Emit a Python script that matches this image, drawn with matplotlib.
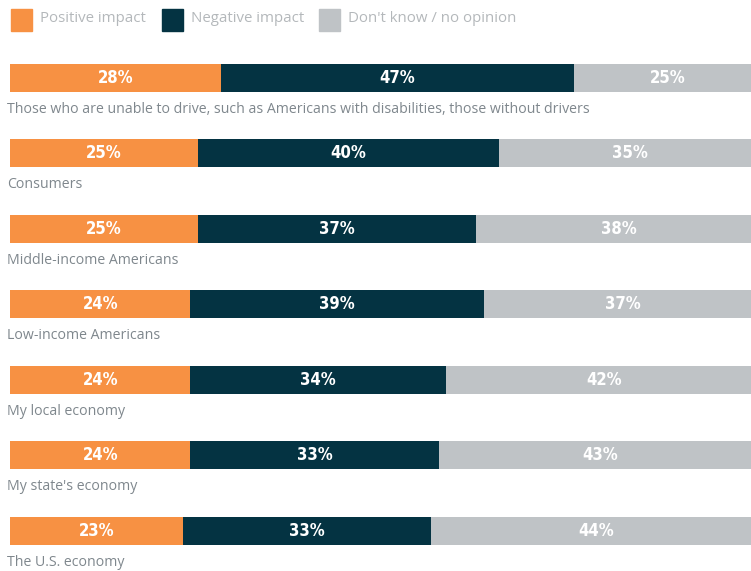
import matplotlib.pyplot as plt
from matplotlib.patches import Rectangle

categories = [
    "Those who are unable to drive, such as Americans with disabilities, those without drivers",
    "Consumers",
    "Middle-income Americans",
    "Low-income Americans",
    "My local economy",
    "My state's economy",
    "The U.S. economy",
]
positive = [28, 25, 25, 24, 24, 24, 23]
negative = [47, 40, 37, 39, 34, 33, 33]
dont_know = [25, 35, 38, 37, 42, 43, 44]
series_names = ["Positive impact", "Negative impact", "Don't know / no opinion"]
colors = ["#F79143", "#043342", "#BFC3C6"]

plt.rcParams['font.family'] = ['Open Sans', 'DejaVu Sans']

W, H = 751, 571
fig = plt.figure(figsize=(W / 100, H / 100), dpi=100)

# bars run from x=10 px and are a bit wider than the picture (cut at right edge)
step = 75.5
y0 = 78
ax = fig.add_axes([10 / W, 0, 752 / W, 1])
ax.set_xlim(0, 100)
ax.set_ylim((H - y0) / step, -y0 / step)
ax.axis("off")

bar_h = 28 / step
for i, cat in enumerate(categories):
    left = 0
    for vals, c in zip([positive, negative, dont_know], colors):
        v = vals[i]
        ax.barh(i, v, left=left, height=bar_h, color=c, edgecolor="none")
        ax.text(left + v / 2, i, f"{v}%", ha="center", va="center",
                color="white", fontsize=12, fontweight="bold",
                fontstretch="condensed", family=["DejaVu Sans"])
        left += v
    ax.text(-0.4, i + 31.5 / step, cat, ha="left", va="center",
            color="#7F878D", fontsize=10.15)

# legend drawn by hand at the top
leg_x = [11, 162, 319]
for x, name, c in zip(leg_x, series_names, colors):
    fig.patches.append(Rectangle((x / W, 1 - 31 / H), 21 / W, 22 / H,
                                 transform=fig.transFigure, color=c))
    fig.text((x + 29) / W, 1 - 19 / H, name, ha="left", va="center",
             color="#B4B8BB", fontsize=10.8)

fig.savefig("out.png", dpi=100)
